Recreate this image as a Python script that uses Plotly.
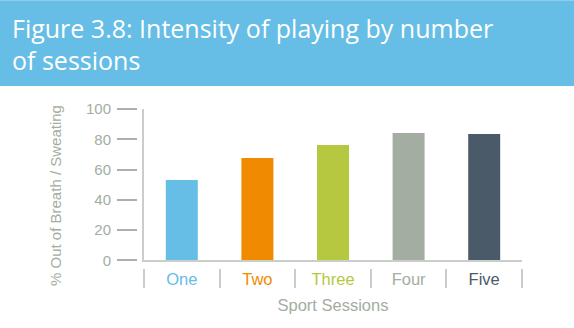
import plotly.graph_objects as go

categories = ["One", "Two", "Three", "Four", "Five"]
values = [53.1, 67.6, 76.2, 84.1, 83.5]
colors = ["#66BDE6", "#F08A00", "#B5C83F", "#A3ADA2", "#4A5A68"]
y_ticks = [0, 20, 40, 60, 80, 100]
title_lines = ["Figure 3.8: Intensity of playing by number", "of sessions"]
x_title = "Sport Sessions"
y_title = "% Out of Breath / Sweating"

W, H = 574, 328
ML, MR, MT, MB = 137, 52, 109, 60
PW, PH = W - ML - MR, H - MT - MB
GRAY = "#A3ADA2"
FONT = "Liberation Sans"


def px_x(x):
    return (x - ML) / PW


def px_y(y):
    return (H - MB - y) / PH


ticktext = [f"<span style='color:{c}'>{t}</span>" for t, c in zip(categories, colors)]

fig = go.Figure()
fig.add_trace(go.Bar(x=categories, y=values, marker=dict(color=colors, line=dict(width=0)),
                     hoverinfo="skip"))
fig.add_trace(go.Bar(x=categories, y=values, xaxis="x2", yaxis="y2", opacity=0,
                     hoverinfo="skip", showlegend=False))

fig.update_layout(
    width=W, height=H,
    margin=dict(l=ML, r=MR, t=MT, b=MB, pad=0),
    paper_bgcolor="white", plot_bgcolor="white",
    showlegend=False,
    bargap=0.577,
    font=dict(family=FONT, color=GRAY, size=14),
    xaxis=dict(domain=[px_x(144), 1], showline=True, linecolor="#C9CEC8", linewidth=1.5,
               ticks="", tickvals=categories, ticktext=ticktext,
               tickfont=dict(family=FONT, size=16.5), ticklabelstandoff=3,
               title=dict(text=x_title, font=dict(family=FONT, size=16.5, color=GRAY), standoff=13),
               showgrid=False, zeroline=False, fixedrange=True),
    yaxis=dict(domain=[px_y(260.3), 1], range=[0, 100], showline=True, linecolor="#C9CEC8",
               linewidth=1.5, ticks="", showticklabels=False, showgrid=False, zeroline=False),
    xaxis2=dict(overlaying="x", anchor="free", position=0, showline=False, ticks="outside",
                tickson="boundaries", ticklen=19, tickwidth=1.5, tickcolor="#C9CEC8",
                showticklabels=False, showgrid=False, zeroline=False, matches="x"),
    yaxis2=dict(overlaying="y", anchor="free", position=0, side="left", range=[0, 100],
                tickvals=y_ticks, ticks="outside", ticklen=20, tickwidth=1.5,
                tickcolor="#A9B1A8", tickfont=dict(family=FONT, size=15, color=GRAY),
                ticklabelstandoff=3,
                showline=False, showgrid=False, zeroline=False),
)

# header banner
fig.add_shape(type="rect", xref="paper", yref="paper",
              x0=px_x(0), x1=px_x(W), y0=px_y(86), y1=px_y(-2),
              fillcolor="#66BDE6", line=dict(width=0), layer="below")
fig.add_shape(type="line", xref="paper", yref="paper",
              x0=px_x(0), x1=px_x(W), y0=px_y(0.5), y1=px_y(0.5),
              line=dict(color="#8DCDEC", width=1))

for line, cy in zip(title_lines, [28, 60]):
    fig.add_annotation(text=line, xref="paper", yref="paper", x=px_x(10), y=px_y(cy),
                       xanchor="left", yanchor="middle", showarrow=False,
                       font=dict(family="Open Sans", size=25, color="white", weight=400))

fig.add_annotation(text=y_title, xref="paper", yref="paper", x=px_x(55), y=px_y(196),
                   xanchor="center", yanchor="middle", textangle=-90, showarrow=False,
                   font=dict(family=FONT, size=15, color=GRAY))

fig.write_html("out.html")
